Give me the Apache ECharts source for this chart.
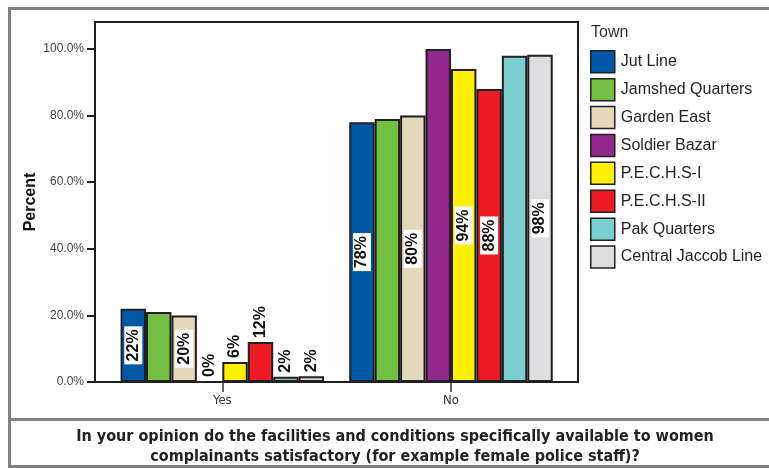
<!DOCTYPE html>
<html>
<head>
<meta charset="utf-8">
<script src="https://cdn.jsdelivr.net/npm/echarts@6/dist/echarts.min.js"></script>
<style>html,body{margin:0;padding:0;background:#fff}#c{width:769px;height:468px}</style>
</head>
<body>
<div id="c"></div>
<script>
var categories = ['Yes', 'No'];
var towns = ['Jut Line', 'Jamshed Quarters', 'Garden East', 'Soldier Bazar', 'P.E.C.H.S-I', 'P.E.C.H.S-II', 'Pak Quarters', 'Central Jaccob Line'];
var colors = ['#0059a8', '#72bf44', '#e3d9b9', '#92278f', '#fff200', '#ed1c24', '#7acfd0', '#dcdddf'];
var yesValues = [22, 21, 20, 0, 6, 12, 1.6, 1.7];
var noValues = [78, 79, 80, 100, 94, 88, 98, 98.3];
var yesLabelPos = ['inside', null, 'inside', 'top', 'top', 'top', 'top', 'top'];
var noLabelPos = ['inside', null, 'inside', null, 'inside', 'inside', null, 'inside'];
var yTicks = [0, 20, 40, 60, 80, 100];
var yMax = 108.1;
var titleText = 'In your opinion do the facilities and conditions specifically available to women\ncomplainants satisfactory (for example female police staff)?';

function labelCfg(pos) {
  if (!pos) return { show: false };
  var base = {
    show: true, rotate: 90, fontSize: 16, fontWeight: 'bold', color: '#111',
    fontFamily: 'Liberation Sans, Arial, sans-serif',
    formatter: function (p) { return Math.round(p.value) + '%'; }
  };
  if (pos === 'inside') {
    base.position = 'inside';
    base.align = 'center';
    base.verticalAlign = 'middle';
    base.backgroundColor = '#fff';
    base.padding = [1, 3, 1, 3];
  } else {
    base.position = 'top';
    base.align = 'left';
    base.verticalAlign = 'middle';
    base.distance = 4;
  }
  return base;
}

var series = towns.map(function (t, i) {
  return {
    name: t, type: 'bar', barGap: '0%', barCategoryGap: '11%',
    itemStyle: { color: colors[i], borderColor: '#231f20', borderWidth: 2 },
    data: [
      { value: yesValues[i], label: labelCfg(yesLabelPos[i]) },
      { value: noValues[i], label: labelCfg(noLabelPos[i]) }
    ],
    emphasis: { disabled: true }
  };
});

var chart = echarts.init(document.getElementById('c'), null, { renderer: 'canvas' });
chart.setOption({
  animation: false,
  backgroundColor: '#fff',
  textStyle: { fontFamily: 'Liberation Sans, Arial, sans-serif' },
  grid: { left: 108, right: 203.7, top: 22, bottom: 86, containLabel: false },
  title: [
    { text: 'Town', left: 591, top: 25, padding: 0, textStyle: { fontSize: 16, fontWeight: 'normal', color: '#333', fontFamily: 'Liberation Sans, Arial, sans-serif' } },
    { text: titleText, left: 395, top: 427, padding: 0, textAlign: 'center',
      textStyle: { fontSize: 16, fontWeight: 'bold', color: '#222', lineHeight: 20, fontFamily: 'Liberation Sans Narrow, DejaVu Sans Condensed, Arial Narrow, sans-serif' } }
  ],
  legend: {
    orient: 'vertical', left: 590, top: 50, padding: 0, itemWidth: 24, itemHeight: 22, itemGap: 4.4,
    icon: 'rect', selectedMode: false,
    itemStyle: { borderColor: '#231f20', borderWidth: 1.5 },
    textStyle: { fontSize: 16, color: '#231f20', fontFamily: 'Liberation Sans, Arial, sans-serif', padding: [0, 0, 0, 1] },
    data: towns
  },
  xAxis: {
    type: 'category', data: categories,
    axisLine: { show: true, lineStyle: { color: '#231f20', width: 2 } },
    axisTick: { show: true, alignWithLabel: true, length: 10, lineStyle: { color: '#333', width: 1.5 } },
    axisLabel: { margin: 12, fontSize: 13, color: '#333', fontFamily: 'Liberation Sans Narrow, DejaVu Sans Condensed, sans-serif' }
  },
  yAxis: {
    type: 'value', min: 0, max: yMax, offset: 13,
    name: 'Percent', nameLocation: 'middle', nameGap: 56, nameMoveOverlap: false,
    nameTextStyle: { fontSize: 16, fontWeight: 'bold', color: '#111', fontFamily: 'Liberation Sans, Arial, sans-serif' },
    axisLine: { show: false },
    splitLine: { show: false },
    axisTick: { show: true, length: 8, customValues: yTicks, lineStyle: { color: '#231f20', width: 2 } },
    axisLabel: { margin: 11, fontSize: 12, color: '#444', customValues: yTicks,
      formatter: function (v) { return v.toFixed(1) + '%'; } }
  },
  graphic: [
    { type: 'rect', silent: true, z: 1, shape: { x: 95, y: 22, width: 483, height: 360 },
      style: { fill: 'none', stroke: '#231f20', lineWidth: 2 } },
    { type: 'rect', silent: true, z: 100, shape: { x: 9.5, y: 8.5, width: 800, height: 458 },
      style: { fill: 'none', stroke: '#808080', lineWidth: 3 } },
    { type: 'line', silent: true, z: 100, shape: { x1: 9, y1: 419.5, x2: 800, y2: 419.5 },
      style: { stroke: '#808080', lineWidth: 3 } }
  ],
  series: series
});
</script>
</body>
</html>
